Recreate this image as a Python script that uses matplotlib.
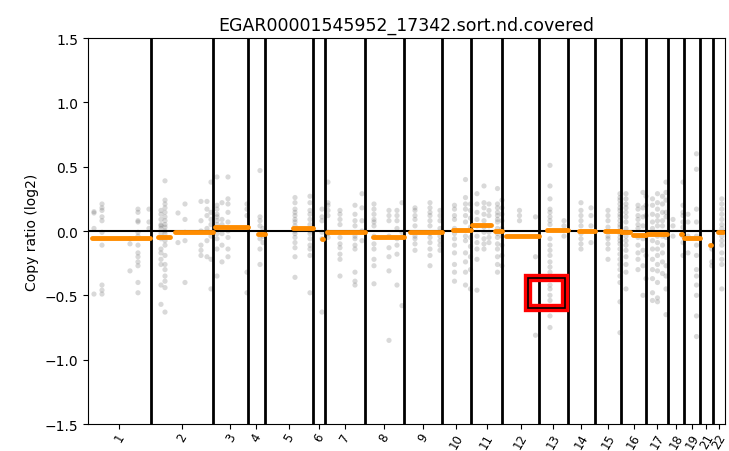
import numpy as np
import matplotlib.pyplot as plt
from matplotlib.patches import Rectangle

title = "EGAR00001545952_17342.sort.nd.covered"

chrom_names = ["1", "2", "3", "4", "5", "6", "7", "8", "9", "10", "11",
               "12", "13", "14", "15", "16", "17", "18", "19", "21", "22"]
chrom_len = [63, 62, 35, 17, 48, 12, 40, 39, 38, 29, 31.5,
             36.5, 29, 27, 26, 25.5, 21.5, 16, 16, 13, 12]

# binned log2 ratios: per chromosome, (position in chromosome, [values])
bins = {
    "1": [(6, [0.15, 0.14, 0.02, -0.49]),
          (14, [0.21, 0.18, 0.16, 0.11, 0.08, -0.01, -0.11, -0.42, -0.46, -0.49]),
          (42, [-0.06, -0.10, -0.31]),
          (50, [0.17, 0.145, 0.08, 0.07, -0.01, -0.04, -0.11, -0.17, -0.20, -0.24, -0.27, -0.40, -0.48]),
          (61, [0.17, 0.07, 0.02])],
    "2": [(10, [0.16, 0.13, 0.09, 0.05, 0.04, 0.02, -0.02, -0.06, -0.14, -0.17, -0.22, -0.26, -0.42, -0.57]),
          (14, [0.39, 0.24, 0.21, 0.18, 0.145, 0.11, 0.08, 0.05, 0.03, 0.0, -0.02, -0.075, -0.11,
                -0.19, -0.26, -0.30, -0.35, -0.39, -0.44, -0.63]),
          (27, [0.14, -0.09]),
          (34, [0.21, 0.09, -0.01, -0.075, -0.40]),
          (50, [0.23, 0.08, 0.0, -0.11, -0.15, -0.19]),
          (56, [0.23, 0.17, 0.12, 0.02, -0.075, -0.20]),
          (60, [0.38, 0.145, 0.09, 0.05, -0.04, -0.22, -0.45])],
    "3": [(4, [0.42, 0.20, 0.17, 0.13, 0.11, 0.08, 0.05, 0.02, -0.02, -0.06, -0.14, -0.35]),
          (9, [0.22, 0.09, 0.05, -0.02, -0.11, -0.24]),
          (15, [0.42, 0.25, 0.21, 0.145, 0.07, 0.0, -0.05, -0.14, -0.20]),
          (34, [0.21, 0.17, 0.12, -0.32, -0.48])],
    "4": [(12, [0.47, 0.11, 0.08, 0.04, -0.06, -0.14, -0.26]),
          (15, [0.02, -0.04, -0.09])],
    "5": [(30, [0.26, 0.22, 0.17, 0.145, 0.12, 0.09, 0.07, 0.04, 0.0, -0.02, -0.05, -0.09, -0.13, -0.20, -0.36]),
          (45, [0.27, 0.22, 0.16, 0.13, 0.09, 0.05, 0.0, -0.02, -0.06, -0.11, -0.14, -0.19, -0.48])],
    "6": [(9, [0.17, 0.11, 0.08, -0.01, -0.06, -0.63])],
    "7": [(3, [0.38, 0.22, 0.20, 0.16, 0.12, -0.01, -0.02, -0.05]),
          (15, [0.16, 0.13, 0.09, 0.05, -0.05, -0.10, -0.13, -0.18, -0.22, -0.35]),
          (30, [0.20, 0.13, 0.08, 0.04, -0.04, -0.06, -0.11, -0.14, -0.32, -0.39, -0.42]),
          (37, [0.29, 0.18, 0.08, 0.0, -0.075])],
    "8": [(9, [0.21, 0.17, 0.13, 0.09, 0.07, 0.04, -0.04, -0.10, -0.14, -0.22, -0.27, -0.41]),
          (24, [0.16, 0.12, 0.08, -0.04, -0.13, -0.20, -0.31, -0.85]),
          (32, [0.16, 0.12, 0.08, 0.02, -0.06, -0.11, -0.18, -0.42]),
          (37, [0.22, -0.01, -0.05, -0.58])],
    "9": [(11, [0.18, 0.16, 0.12, 0.09, 0.04, -0.04, -0.06, -0.10, -0.15]),
          (26, [0.22, 0.18, 0.145, 0.12, 0.08, 0.04, -0.02, -0.05, -0.09, -0.14, -0.19, -0.27]),
          (36, [0.16, 0.12, 0.08, 0.02, -0.04, -0.075, -0.11, -0.15])],
    "10": [(12.5, [0.20, 0.17, 0.12, 0.09, 0.02, -0.02, -0.06, -0.11, -0.17, -0.26, -0.32, -0.39]),
           (23.5, [0.40, 0.26, 0.21, 0.17, 0.12, 0.07, -0.04, -0.075, -0.17, -0.24, -0.32, -0.42]),
           (28.5, [0.21, 0.16, 0.10, 0.03, -0.05, -0.12, -0.20, -0.30, -0.45])],
    "11": [(6, [0.29, 0.21, 0.145, 0.09, 0.04, -0.04, -0.09, -0.14, -0.22, -0.46]),
           (13, [0.35, 0.22, 0.18, 0.13, 0.08, 0.03, -0.01, -0.06, -0.10, -0.14]),
           (18, [0.21, 0.16, 0.12, 0.04, -0.01, -0.05, -0.09]),
           (26.5, [0.33, 0.21, 0.18, 0.145, 0.12, 0.09, 0.07, 0.02, -0.02, -0.05, -0.10, -0.14,
                   -0.20, -0.26, -0.32]),
           (31, [0.24, 0.18, 0.13, 0.08, 0.02, -0.04, -0.11, -0.19, -0.27])],
    "12": [(17, [0.16, 0.12, 0.08]),
           (33, [0.11, -0.20, -0.81])],
    "13": [(11, [0.51, 0.35, 0.25, 0.17, 0.145, 0.11, 0.08, 0.05, -0.06, -0.11, -0.15, -0.19, -0.24,
                 -0.28, -0.32, -0.36, -0.42, -0.45, -0.50, -0.54, -0.66, -0.75]),
           (25, [0.08, 0.04, -0.04])],
    "14": [(13, [0.22, 0.16, 0.12, 0.08, 0.04, -0.02, -0.06, -0.10, -0.14]),
           (23, [0.18, 0.12, 0.04, -0.09])],
    "15": [(13, [0.16, 0.12, 0.08, 0.03, -0.04, -0.06, -0.10, -0.14, -0.22]),
           (25, [0.29, 0.26, 0.24, 0.21, 0.18, 0.16, 0.13, 0.11, 0.08, 0.05, 0.03, 0.0, -0.02, -0.05,
                 -0.075, -0.10, -0.14, -0.18, -0.22, -0.26, -0.30, -0.35, -0.40, -0.55, -0.79])],
    "16": [(5, [0.29, 0.25, 0.21, 0.18, 0.145, 0.11, 0.07, 0.02, -0.04, -0.075, -0.11, -0.15, -0.20,
                -0.26, -0.32, -0.45]),
           (17, [0.20, 0.17, 0.12, 0.09, 0.05, 0.02, -0.05, -0.11, -0.17, -0.22, -0.30]),
           (22, [0.30, 0.18, 0.11, 0.04, -0.06, -0.15, -0.27, -0.50]),
           (25, [0.27, 0.20, 0.12, -0.04, -0.19, -0.37])],
    "17": [(6, [0.25, 0.20, 0.13, 0.07, 0.02, -0.075, -0.14, -0.22, -0.30, -0.37, -0.48, -0.54]),
           (11, [0.29, 0.22, 0.17, 0.12, 0.08, 0.04, -0.04, -0.09, -0.14, -0.19, -0.26, -0.31, -0.40,
                 -0.52, -0.55]),
           (16, [0.27, 0.21, 0.145, 0.08, 0.04, -0.04, -0.11, -0.17, -0.24, -0.33]),
           (19.5, [0.38, 0.30, 0.24, 0.145, 0.11, -0.05, -0.27, -0.35, -0.45, -0.65])],
    "18": [(5, [0.09, 0.04, -0.04]),
           (15, [0.38, 0.20, 0.145, 0.12, 0.07, 0.03, -0.04, -0.09, -0.19])],
    "19": [(4, [0.13, 0.07, -0.04, -0.17]),
           (12.5, [0.60, 0.48, 0.17, 0.07, -0.04, -0.11, -0.19, -0.30, -0.35, -0.42, -0.50, -0.66, -0.82])],
    "21": [(11.8, [-0.14, -0.24, -0.27])],
    "22": [(8.8, [0.25, 0.21, 0.17, 0.13, 0.09, 0.05, 0.02, -0.04, -0.075, -0.11, -0.17, -0.22,
                  -0.26, -0.45])],
}

# segments: per chromosome, (start, end, mean log2)
segments = {
    "1": [(4, 62, -0.054)],
    "2": [(7, 19, -0.05), (24, 62, -0.01)],
    "3": [(2, 35, 0.035)],
    "4": [(10, 17, -0.02)],
    "5": [(28, 48, 0.027)],
    "6": [(9.5, 10.5, -0.06)],
    "7": [(2, 40, -0.01)],
    "8": [(8, 39, -0.044)],
    "9": [(6, 38, -0.01)],
    "10": [(11, 29, 0.005)],
    "11": [(1, 20, 0.044), (24, 31, -0.003)],
    "12": [(3.5, 36.5, -0.04)],
    "13": [(8, 29, 0.01), (9, 9.5, -0.41)],
    "14": [(11, 27, 0.003)],
    "15": [(10, 26, 0.0)],
    "16": [(0, 9, -0.01), (12, 25.5, -0.03)],
    "17": [(1, 21, -0.026)],
    "18": [(13.5, 14.5, -0.02)],
    "19": [(0, 16, -0.057)],
    "21": [(10.5, 11.5, -0.106)],
    "22": [(5, 10, -0.01)],
}

starts = np.concatenate([[0], np.cumsum(chrom_len)[:-1]])
ends = np.cumsum(chrom_len)

fig = plt.figure(figsize=(7.29, 4.52), dpi=100)
ax = fig.add_axes([0.1207, 0.0597, 0.8738, 0.854])

xs, ys = [], []
for name, st in zip(chrom_names, starts):
    for pos, vals in bins[name]:
        xs += [st + pos] * len(vals)
        ys += vals
ax.scatter(xs, ys, s=14, color="dimgray", alpha=0.25, edgecolors="none", zorder=1)

ax.axhline(0, color="black", lw=1.5, zorder=2)
for e in ends[:-1]:
    ax.axvline(e, color="black", lw=2, zorder=2)

for name, st in zip(chrom_names, starts):
    for s0, s1, v in segments[name]:
        ax.plot([st + s0, st + s1], [v, v], color="darkorange", lw=3.5,
                solid_capstyle="round", zorder=3)

# highlight box on chr13
ax.add_patch(Rectangle((440, -0.6), 37, 0.235, fill=False, edgecolor="red", lw=6, zorder=4))
ax.add_patch(Rectangle((440, -0.6), 37, 0.235, fill=False, edgecolor="black", lw=1.2, zorder=5))

ax.set_xlim(0, ends[-1])
ax.set_ylim(-1.5, 1.5)
ax.set_yticks([-1.5, -1.0, -0.5, 0.0, 0.5, 1.0, 1.5])
ax.set_xticks((starts + ends) / 2)
ax.set_xticklabels(chrom_names, rotation=60, fontsize=8.5)
ax.tick_params(axis="x", pad=1.5)
ax.tick_params(axis="y", labelsize=10)
ax.set_ylabel("Copy ratio (log2)", fontsize=10)
ax.set_title(title, fontsize=12.5)

fig.savefig("out.png", dpi=100)
